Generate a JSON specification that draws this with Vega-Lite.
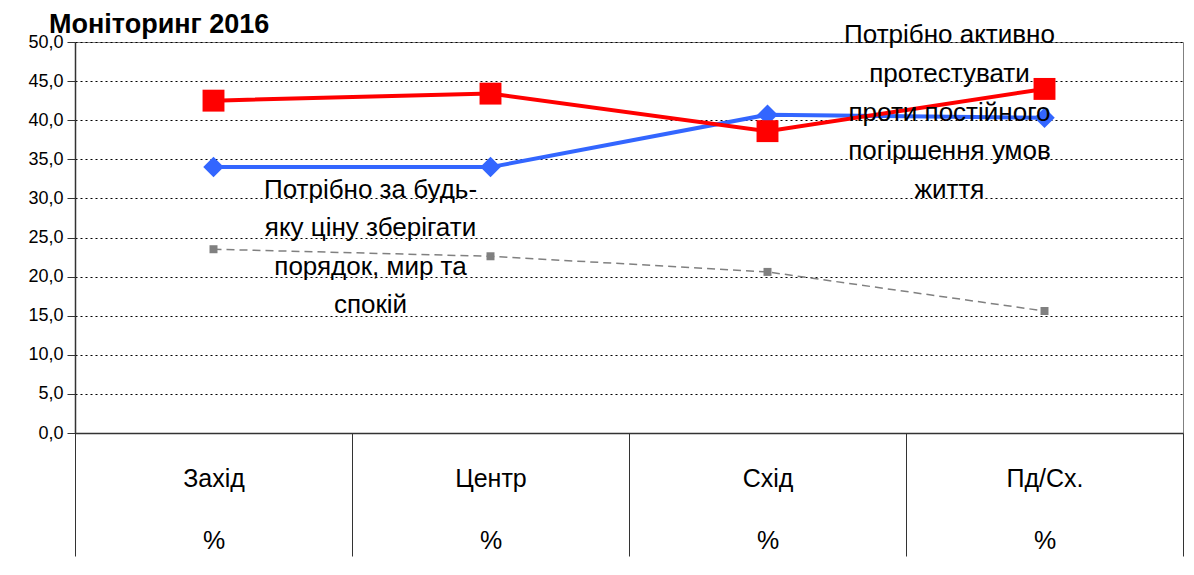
{
  "$schema": "https://vega.github.io/schema/vega-lite/v6.json",
  "autosize": "none",
  "width": 1108,
  "height": 391,
  "padding": {"left": 75, "top": 42, "right": 11, "bottom": 142},
  "background": "white",
  "title": {
    "text": "Моніторинг 2016",
    "anchor": "start",
    "frame": "group",
    "font": "Liberation Sans",
    "fontSize": 27,
    "fontWeight": "bold",
    "color": "black",
    "baseline": "alphabetic",
    "dx": -26,
    "dy": 38,
    "offset": 0
  },
  "config": {
    "view": {"stroke": "#808080", "strokeWidth": 1},
    "font": "Liberation Sans"
  },
  "data": {
    "values": [
      {"cat": "Захід", "series": "grey", "value": 23.5},
      {"cat": "Центр", "series": "grey", "value": 22.6},
      {"cat": "Схід", "series": "grey", "value": 20.6},
      {"cat": "Пд/Сх.", "series": "grey", "value": 15.6},
      {"cat": "Захід", "series": "blue", "value": 34.0},
      {"cat": "Центр", "series": "blue", "value": 34.0},
      {"cat": "Схід", "series": "blue", "value": 40.7},
      {"cat": "Пд/Сх.", "series": "blue", "value": 40.3},
      {"cat": "Захід", "series": "red", "value": 42.5},
      {"cat": "Центр", "series": "red", "value": 43.4},
      {"cat": "Схід", "series": "red", "value": 38.6},
      {"cat": "Пд/Сх.", "series": "red", "value": 44.0},
      {"cat": "Захід", "series": "note1", "value": 31.1, "note": "Потрібно за будь-\nяку ціну зберігати\nпорядок, мир та\nспокій"},
      {"cat": "Схід", "series": "note2", "value": 50.9, "note": "Потрібно активно\nпротестувати\nпроти постійного\nпогіршення умов\nжиття"}
    ]
  },
  "encoding": {
    "x": {
      "field": "cat",
      "type": "nominal",
      "bandPosition": 0.5,
      "sort": ["Захід", "Центр", "Схід", "Пд/Сх."],
      "scale": {"type": "band", "paddingInner": 0, "paddingOuter": 0, "domain": ["Захід", "Центр", "Схід", "Пд/Сх."]},
      "axis": {
        "title": null,
        "labelAngle": 0,
        "labelExpr": "datum.label ? [datum.label, '%'] : ''",
        "labelLineHeight": 62,
        "labelFontSize": 25,
        "labelFont": "Liberation Sans",
        "labelColor": "black",
        "labelPadding": -90,
        "tickBand": "extent",
        "tickSize": 123,
        "tickColor": "#333333",
        "domainColor": "#333333",
        "domainWidth": 1.5,
        "grid": false
      }
    },
    "y": {
      "field": "value",
      "type": "quantitative",
      "scale": {"domain": [0, 50], "nice": false},
      "axis": {
        "title": null,
        "values": [0, 5, 10, 15, 20, 25, 30, 35, 40, 45, 50],
        "labelOverlap": false,
        "labelExpr": "replace(format(datum.value, '.1f'), '.', ',')",
        "labelFontSize": 18,
        "labelColor": "black",
        "labelPadding": 4,
        "tickSize": 8,
        "tickColor": "#333333",
        "domainColor": "#333333",
        "domainWidth": 1.5,
        "grid": true,
        "gridColor": "black",
        "gridDash": [2, 3],
        "gridWidth": 1
      }
    }
  },
  "layer": [
    {
      "transform": [{"filter": "datum.series === 'grey'"}],
      "mark": {"type": "line", "color": "#808080", "strokeWidth": 1.5, "strokeDash": [8, 5],
        "point": {"shape": "square", "size": 64, "filled": true, "color": "#808080", "opacity": 1}}
    },
    {
      "transform": [{"filter": "datum.series === 'blue'"}],
      "mark": {"type": "line", "color": "#3366FF", "strokeWidth": 4,
        "point": {"shape": "diamond", "size": 420, "filled": true, "color": "#3366FF", "opacity": 1}}
    },
    {
      "transform": [{"filter": "datum.series === 'red'"}],
      "mark": {"type": "line", "color": "#FF0000", "strokeWidth": 4,
        "point": {"shape": "square", "size": 480, "filled": true, "color": "#FF0000", "opacity": 1}}
    },
    {
      "transform": [{"filter": "datum.series === 'note1'"}],
      "mark": {"type": "text", "lineBreak": "\n", "lineHeight": 38.5, "fontSize": 26, "font": "Liberation Sans",
        "color": "black", "align": "center", "baseline": "middle", "dx": 157},
      "encoding": {"text": {"field": "note", "type": "nominal"}}
    },
    {
      "transform": [{"filter": "datum.series === 'note2'"}],
      "mark": {"type": "text", "lineBreak": "\n", "lineHeight": 38.8, "fontSize": 26, "font": "Liberation Sans",
        "color": "black", "align": "center", "baseline": "middle", "dx": 182},
      "encoding": {"text": {"field": "note", "type": "nominal"}}
    }
  ]
}
